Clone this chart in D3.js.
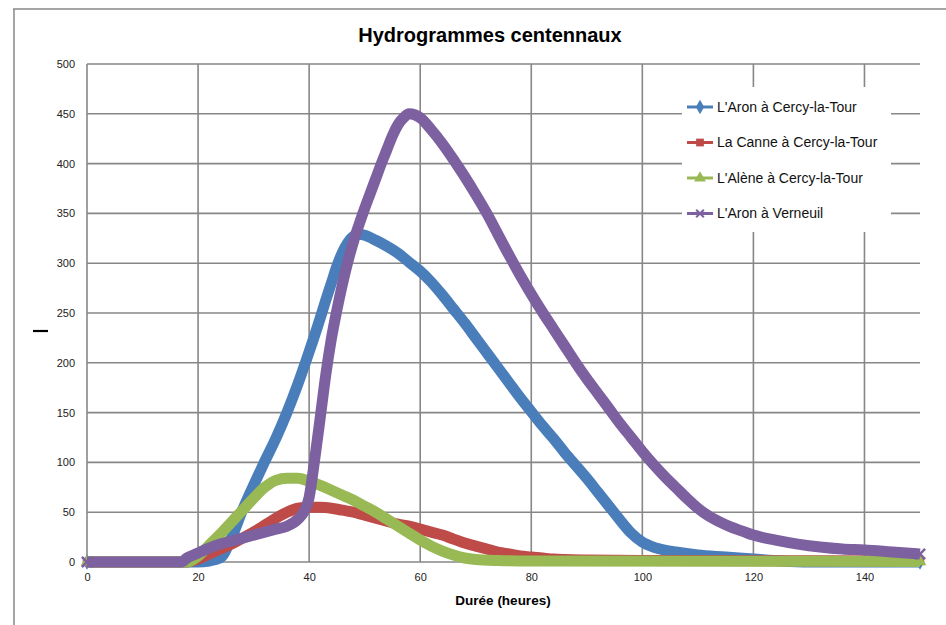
<!DOCTYPE html>
<html>
<head>
<meta charset="utf-8">
<script src="https://cdn.jsdelivr.net/npm/d3@7"></script>
<style>
  body { margin: 0; background: #fff; }
  svg { display: block; font-family: "Liberation Sans", Arial, sans-serif; }
</style>
</head>
<body>
<svg id="chart" width="946" height="625"></svg>
<script>
// valeurs : [heure, débit]
const aronCercy = [
  [0, 0], [20, 0], [22, 1], [24, 4], [26, 24], [28, 52], [30, 77], [32, 101], [34, 124],
  [36, 150], [38, 179], [40, 211], [42, 245], [43, 263], [44, 280], [45, 297], [46, 311],
  [47, 321], [48, 327], [49, 329], [50, 328], [52, 323], [54, 317], [56, 310], [58, 301],
  [60, 292], [62, 281], [64, 268], [66, 254], [68, 240], [70, 225], [72, 210], [74, 195],
  [76, 180], [78, 165], [80, 151], [82, 137], [84, 124], [86, 110], [88, 97], [90, 84],
  [92, 70], [94, 56], [96, 42], [98, 29], [100, 20], [102, 15], [104, 12], [106, 10],
  [110, 7], [115, 5], [120, 3], [125, 1], [130, 0], [150, 0]
];
const canneCercy = [
  [0, 0], [18, 0], [20, 3], [22, 8], [24, 13], [26, 18], [28, 24], [30, 30], [32, 37],
  [34, 44], [36, 50], [38, 54], [40, 55], [42, 55], [44, 54], [46, 52], [48, 50], [50, 47],
  [52, 44], [54, 41], [56, 38], [58, 36], [60, 33], [62, 30], [64, 27], [66, 23], [68, 19],
  [70, 16], [72, 13], [74, 10], [76, 8], [78, 6], [80, 5], [82, 4], [84, 3], [86, 2.5],
  [90, 2], [100, 1.5], [150, 1]
];
const aleneCercy = [
  [0, 0], [18, 0], [20, 6], [22, 17], [24, 28], [26, 40], [28, 52], [30, 64], [32, 75],
  [34, 82], [36, 84], [38, 84], [40, 81], [42, 77], [44, 72], [46, 67], [48, 62], [50, 56],
  [52, 50], [54, 43], [56, 36], [58, 29], [60, 22], [62, 16], [64, 11], [66, 7], [68, 4],
  [70, 2.5], [74, 1.5], [80, 1], [150, 0.5]
];
const aronVerneuil = [
  [0, 0], [17, 0], [18, 4], [20, 9], [22, 14], [24, 18], [26, 21], [28, 24], [30, 27],
  [32, 30], [34, 33], [36, 36], [38, 43], [39, 50], [40, 65], [41, 103], [42, 145], [43, 188],
  [44, 224], [45, 253], [46, 279], [47, 302], [48, 322], [49, 339], [50, 355], [51, 370],
  [52, 385], [53, 400], [54, 414], [55, 428], [56, 439], [57, 446], [58, 450], [59, 449],
  [60, 446], [62, 434], [64, 420], [66, 404], [68, 387], [70, 369], [72, 350], [74, 329],
  [76, 308], [78, 288], [80, 269], [82, 251], [84, 234], [86, 217], [88, 200], [90, 184],
  [92, 169], [94, 154], [96, 139], [98, 125], [100, 111], [102, 98], [104, 86], [106, 75],
  [108, 64], [110, 54], [112, 46], [114, 40], [116, 35], [118, 31], [120, 27], [124, 22],
  [128, 18], [132, 15], [136, 13], [140, 12], [145, 10], [150, 8]
];

const seriesNames = [
  "L'Aron à Cercy-la-Tour",
  "La Canne à Cercy-la-Tour",
  "L'Alène à Cercy-la-Tour",
  "L'Aron à Verneuil"
];
const seriesColors = ["#4a7ebb", "#be4b48", "#98b954", "#7d60a0"];
const seriesSymbols = [d3.symbolDiamond, d3.symbolSquare, d3.symbolTriangle, d3.symbolX];
const xTicks = [0, 20, 40, 60, 80, 100, 120, 140];
const yTicks = [0, 50, 100, 150, 200, 250, 300, 350, 400, 450, 500];

const allSeries = [aronCercy, canneCercy, aleneCercy, aronVerneuil];

const svg = d3.select("#chart");
const area = { left: 87, right: 920, top: 64, bottom: 562 };
const gridColor = "#878787";

// cadre extérieur
svg.append("line").attr("x1", 14).attr("x2", 14).attr("y1", 9).attr("y2", 625)
  .attr("stroke", gridColor).attr("stroke-width", 1.5);
svg.append("line").attr("x1", 13).attr("x2", 946).attr("y1", 9).attr("y2", 9)
  .attr("stroke", gridColor).attr("stroke-width", 1.5);

svg.append("text")
  .attr("x", 490).attr("y", 42)
  .attr("text-anchor", "middle")
  .style("font-size", "20px").style("font-weight", "bold")
  .text("Hydrogrammes centennaux");

const scX = d3.scaleLinear().domain([0, 150]).range([area.left, area.right]);
const scY = d3.scaleLinear().domain([0, 500]).range([area.bottom, area.top]);

// quadrillage
const grid = svg.append("g");
grid.selectAll(".hgrid").data(yTicks).enter().append("line")
  .attr("x1", area.left).attr("x2", area.right)
  .attr("y1", (d) => scY(d)).attr("y2", (d) => scY(d))
  .attr("stroke", gridColor).attr("stroke-width", 1.6);
grid.selectAll(".vgrid").data(xTicks).enter().append("line")
  .attr("x1", (d) => scX(d)).attr("x2", (d) => scX(d))
  .attr("y1", area.top).attr("y2", area.bottom)
  .attr("stroke", gridColor).attr("stroke-width", 1.6);

// axes (sans trait, seulement les libellés)
const axisX = svg.append("g")
  .attr("transform", `translate(0, ${area.bottom})`)
  .call(d3.axisBottom(scX).tickValues(xTicks).tickSize(0).tickPadding(11));
const axisY = svg.append("g")
  .attr("transform", `translate(${area.left}, 0)`)
  .call(d3.axisLeft(scY).tickValues(yTicks).tickSize(0).tickPadding(12));
[axisX, axisY].forEach((g) => {
  g.select(".domain").remove();
  g.selectAll("text").style("font-size", "11px").style("font-family", "Liberation Sans, Arial, sans-serif").attr("fill", "#222");
});

svg.append("text")
  .attr("x", 503).attr("y", 605)
  .attr("text-anchor", "middle")
  .style("font-size", "13.5px").style("font-weight", "bold")
  .text("Durée (heures)");

// reste du titre vertical coupé
svg.append("line").attr("x1", 33).attr("x2", 48).attr("y1", 331).attr("y2", 331)
  .attr("stroke", "#000").attr("stroke-width", 2.2);

// courbes
const line = d3.line()
  .x((d) => scX(d[0]))
  .y((d) => scY(d[1]))
  .curve(d3.curveMonotoneX);

allSeries.forEach((data, i) => {
  const g = svg.append("g");
  g.append("path")
    .datum(data)
    .attr("d", line)
    .attr("fill", "none")
    .attr("stroke", seriesColors[i])
    .attr("stroke-width", 11)
    .attr("stroke-linejoin", "round");
  const ends = [data[0], data[data.length - 1]];
  g.selectAll("path.end").data(ends).enter().append("path")
    .attr("class", "end")
    .attr("transform", (d) => `translate(${scX(d[0])}, ${scY(d[1])})`)
    .attr("d", d3.symbol().type(seriesSymbols[i]).size(70))
    .attr("fill", seriesColors[i])
    .attr("stroke", seriesColors[i])
    .attr("stroke-width", i === 3 ? 2.5 : 0);
});

// légende
const legend = svg.append("g");
legend.append("rect")
  .attr("x", 682).attr("y", 87).attr("width", 209).attr("height", 145)
  .attr("fill", "#fff");
const rows = legend.selectAll(".item").data(seriesNames).enter().append("g")
  .attr("transform", (d, i) => `translate(0, ${107 + i * 35.5})`);
rows.append("line")
  .attr("x1", 687).attr("x2", 713).attr("y1", 0).attr("y2", 0)
  .attr("stroke", (d, i) => seriesColors[i]).attr("stroke-width", 3);
rows.append("path")
  .attr("transform", "translate(700, 0)")
  .attr("d", (d, i) => d3.symbol().type(seriesSymbols[i]).size(i === 3 ? 40 : 60)())
  .attr("fill", (d, i) => seriesColors[i])
  .attr("stroke", (d, i) => seriesColors[i])
  .attr("stroke-width", (d, i) => (i === 3 ? 2 : 0));
rows.append("text")
  .attr("x", 717).attr("y", 0).attr("dy", "0.35em")
  .style("font-size", "14px").attr("fill", "#111")
  .text((d) => d);
</script>
</body>
</html>
